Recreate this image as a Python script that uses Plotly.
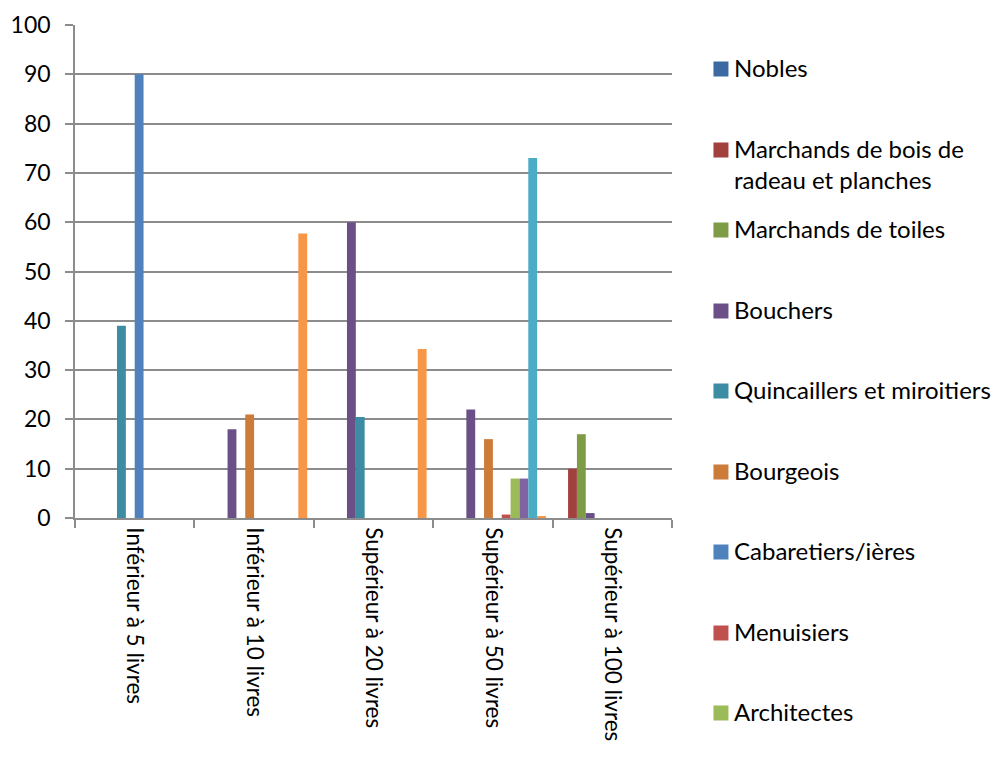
import plotly.graph_objects as go

categories = ["Inférieur à 5 livres", "Inférieur à 10 livres", "Supérieur à 20 livres",
              "Supérieur à 50 livres", "Supérieur à 100 livres"]

series_names = ["Nobles", "Marchands de bois de radeau et planches", "Marchands de toiles",
                "Bouchers", "Quincaillers et miroitiers", "Bourgeois", "Cabaretiers/ières",
                "Menuisiers", "Architectes", "Série 10", "Série 11", "Série 12"]

nobles = [None, None, None, None, None]
bois = [None, None, None, None, 10]
toiles = [None, None, None, None, 17]
bouchers = [None, 18, 60, 22, 1]
quincaillers = [39, None, 20.5, None, None]
bourgeois = [None, 21, None, 16, None]
cabaretiers = [90, None, None, None, None]
menuisiers = [None, None, None, 0.7, None]
architectes = [None, None, None, 8, None]
serie10 = [None, None, None, 8, None]
serie11 = [None, None, None, 73, None]
serie12 = [None, 57.7, 34.3, 0.3, None]

values = [nobles, bois, toiles, bouchers, quincaillers, bourgeois, cabaretiers,
          menuisiers, architectes, serie10, serie11, serie12]

colors = ["#3D69A2", "#A1403D", "#7E9B45", "#6A5087", "#3C8CA3", "#CC7B38",
          "#4F81BD", "#C0504D", "#9BBB59", "#8064A2", "#4BACC6", "#F79646"]

legend_labels = ["Nobles", "Marchands de bois de<br>radeau et planches", "Marchands de toiles",
                 "Bouchers", "Quincaillers et miroitiers", "Bourgeois", "Cabaretiers/ières",
                 "Menuisiers", "Architectes"]
legend_y_px = [69, 150, 230, 311, 391, 472, 552, 633, 713]

FONT = "Lato"
FS = 24
OFF = 8  # page body margin offset
W, H = 1005, 764
L, R, T, B = 75 - OFF, 672.5 - OFF, 25 - OFF, 518 - OFF

fig = go.Figure()
for name, vals, col in zip(series_names, values, colors):
    fig.add_trace(go.Bar(x=categories, y=vals, name=name, marker_color=col,
                         marker_line_width=0, showlegend=False))

def px_to_paper_x(px):
    return (px - OFF - L) / (R - L)

def px_to_paper_y(py):
    return (B - (py - OFF)) / (B - T)

shapes = []
annotations = []
for lab, ypx, col in zip(legend_labels, legend_y_px, colors):
    shapes.append(dict(type="rect", xref="paper", yref="paper",
                       x0=px_to_paper_x(714), x1=px_to_paper_x(729),
                       y0=px_to_paper_y(ypx + 7.5), y1=px_to_paper_y(ypx - 7.5),
                       fillcolor=col, line_width=0))
    annotations.append(dict(xref="paper", yref="paper", x=px_to_paper_x(733),
                            y=px_to_paper_y(ypx - 18), xanchor="left", yanchor="top",
                            text=lab, showarrow=False, align="left",
                            font=dict(family=FONT, size=FS, color="#000000")))

fig.update_layout(
    width=W, height=H,
    margin=dict(l=L, r=W - R, t=T, b=H - B, pad=0, autoexpand=False),
    paper_bgcolor="white", plot_bgcolor="white",
    barmode="group", bargap=0.111, bargroupgap=0,
    font=dict(family=FONT, size=FS, color="#000000"),
    shapes=shapes, annotations=annotations,
    showlegend=False,
)
fig.update_yaxes(range=[0, 100], dtick=10, tick0=0, showgrid=True, gridcolor="#8c8c8c",
                 gridwidth=1.5, showline=True, linecolor="#8c8c8c", linewidth=1.5,
                 ticks="outside", ticklen=8, tickcolor="#8c8c8c", tickwidth=1.5,
                 ticklabelstandoff=10, zeroline=False, fixedrange=True, automargin=False,
                 tickfont=dict(family=FONT, size=23, color="#000000"))
fig.update_xaxes(showline=True, linecolor="#8c8c8c", linewidth=1.5, ticks="outside",
                 tickson="boundaries", ticklen=8, tickcolor="#8c8c8c", tickwidth=1.5,
                 tickangle=90, showgrid=False, ticklabelstandoff=3, automargin=False,
                 tickfont=dict(family=FONT, size=22.5, color="#000000"))

fig.write_html("out.html")
